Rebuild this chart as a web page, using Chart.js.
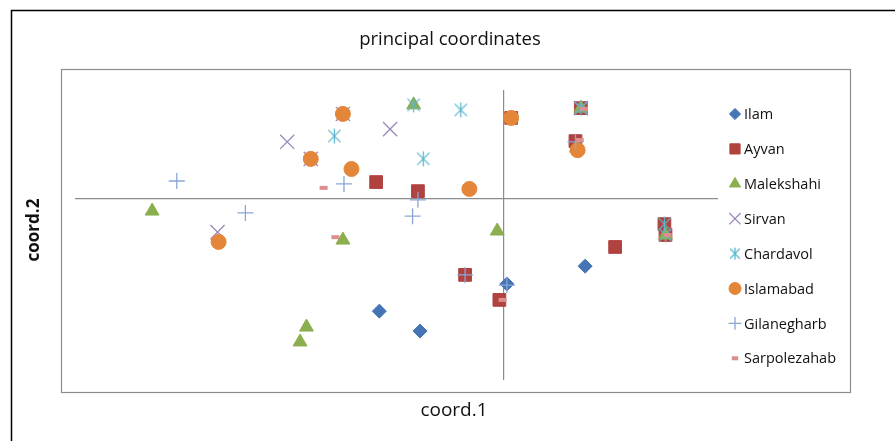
<!DOCTYPE html>
<html>
<head>
<meta charset="utf-8">
<script src="https://cdn.jsdelivr.net/npm/chart.js@4/dist/chart.umd.min.js"></script>
<style>
    body { margin: 0; background: #fff; }
    #wrap { width: 895px; height: 441px; position: relative; }
</style>
</head>
<body>
<div id="wrap"><canvas id="pcoChart"></canvas></div>
<script>
// Series names (legend order)
const seriesNames = ['Ilam', 'Ayvan', 'Malekshahi', 'Sirvan', 'Chardavol', 'Islamabad', 'Gilanegharb', 'Sarpolezahab'];

// coord.1 / coord.2 values
const ilam = [[0.076, -0.186], [0.003, -0.235], [-0.078, -0.365], [-0.116, -0.310]];
const ayvan = [[0.072, 0.250], [0.067, 0.159], [-0.119, 0.046], [-0.080, 0.021], [0.007, 0.223],
    [0.150, -0.070], [0.151, -0.100], [0.104, -0.133], [-0.036, -0.210], [-0.004, -0.279]];
const malekshahi = [[-0.328, -0.034], [-0.150, -0.114], [-0.184, -0.354], [-0.190, -0.395], [-0.006, -0.089],
    [-0.084, 0.259], [0.072, 0.250], [0.068, 0.140], [0.151, -0.100]];
const sirvan = [[-0.202, 0.157], [-0.106, 0.192], [-0.267, -0.092], [-0.150, 0.234], [-0.180, 0.110], [0.072, 0.250]];
const chardavol = [[-0.158, 0.173], [-0.084, 0.259], [-0.040, 0.245], [-0.075, 0.110], [0.072, 0.250],
    [0.150, -0.070], [0.151, -0.100]];
const islamabad = [[-0.150, 0.234], [-0.180, 0.110], [-0.142, 0.082], [-0.032, 0.027], [0.007, 0.223],
    [0.069, 0.134], [-0.266, -0.119]];
const gilanegharb = [[-0.305, 0.049], [-0.241, -0.039], [-0.149, 0.041], [-0.080, -0.003], [-0.085, -0.048],
    [-0.036, -0.210], [0.003, -0.238], [0.067, 0.157]];
const sarpolezahab = [[-0.168, 0.030], [-0.157, -0.106], [-0.001, -0.279], [0.075, 0.248], [0.071, 0.162], [0.153, -0.100]];

// Axis range
const xRange = [-0.4, 0.2];
const yRange = [-0.5, 0.3];

const seriesData = [ilam, ayvan, malekshahi, sirvan, chardavol, islamabad, gilanegharb, sarpolezahab];

// six-armed asterisk like the spreadsheet marker
function makeAsterisk(size, color) {
    const cv = document.createElement('canvas');
    cv.width = size; cv.height = size;
    const g = cv.getContext('2d');
    const h = size / 2, r = h - 1, d = r * 0.82;
    g.strokeStyle = color;
    g.lineWidth = 1.3;
    g.beginPath();
    g.moveTo(h, h - r); g.lineTo(h, h + r);
    g.moveTo(h - d, h - d); g.lineTo(h + d, h + d);
    g.moveTo(h - d, h + d); g.lineTo(h + d, h - d);
    g.stroke();
    return cv;
}

// marker looks
const markers = [
    { style: 'rectRot', color: '#4675B5', radius: 7, width: 1, fill: true },
    { style: 'rect', color: '#B0423F', radius: 9, width: 1, fill: true },
    { style: 'triangle', color: '#8BAE4E', radius: 8, width: 1, fill: true },
    { style: 'crossRot', color: '#9C88B9', radius: 10, width: 1.3, fill: false },
    { style: makeAsterisk(17, '#5BB8CE'), legendStyle: makeAsterisk(14, '#5BB8CE'), color: '#5BB8CE', radius: 8, width: 1.3, fill: false },
    { style: 'circle', color: '#E4863A', radius: 7.5, width: 1, fill: true },
    { style: 'cross', color: '#8AA6D8', radius: 8, width: 1.3, fill: false },
    { style: 'line', color: '#DB8F8E', radius: 4, width: 4, fill: false }
];

const datasets = seriesNames.map((name, i) => {
    const m = markers[i];
    return {
        label: name,
        data: seriesData[i].map(p => ({ x: p[0], y: p[1] })),
        pointStyle: m.style,
        pointRadius: m.radius,
        pointHoverRadius: m.radius,
        pointBorderWidth: m.width,
        pointBorderColor: m.color,
        pointBackgroundColor: m.fill ? m.color : 'transparent',
        showLine: false,
        order: seriesNames.length - i // later series on top
    };
});

const FONT = "'Open Sans', 'Liberation Sans', sans-serif";

// frames, titles and legend drawn around the plot
const decorPlugin = {
    id: 'decor',
    beforeDraw(chart) {
        const c = chart.ctx;
        c.save();
        c.fillStyle = '#fff';
        c.fillRect(0, 0, chart.width, chart.height);
        c.strokeStyle = '#000';
        c.lineWidth = 1.5;
        c.strokeRect(11.5, 10.5, 900, 450);
        c.strokeStyle = '#8c8c8c';
        c.lineWidth = 1.2;
        c.strokeRect(61.5, 69.5, 789, 323);
        c.restore();
    },
    afterDraw(chart) {
        const c = chart.ctx;
        c.save();
        c.fillStyle = '#111';
        c.textAlign = 'center';
        c.textBaseline = 'middle';
        c.font = '18.5px ' + FONT;
        c.fillText('principal coordinates', 450, 40);
        c.font = '19px ' + FONT;
        c.fillText('coord.1', 454, 411);
        c.save();
        c.translate(34, 230);
        c.rotate(-Math.PI / 2);
        c.font = 'bold 17px ' + FONT;
        c.fillText('coord.2', 0, 0);
        c.restore();

        // legend
        c.textAlign = 'left';
        c.font = '14.5px ' + FONT;
        seriesNames.forEach((name, i) => {
            const m = markers[i];
            const y = 114 + i * 34.9;
            c.strokeStyle = m.color;
            c.fillStyle = m.fill ? m.color : 'transparent';
            c.lineWidth = m.width;
            Chart.helpers.drawPoint(c, { pointStyle: m.legendStyle || m.style, radius: m.radius * 0.8, borderWidth: m.width }, 735, y);
            c.fillStyle = '#111';
            c.fillText(name, 744, y + 1);
        });
        c.restore();
    }
};

const zeroLine = ctx => Math.abs(ctx.tick.value) < 1e-9 ? '#8c8c8c' : 'transparent';

new Chart(document.getElementById('pcoChart'), {
    type: 'scatter',
    data: { datasets: datasets },
    options: {
        responsive: true,
        maintainAspectRatio: false,
        animation: false,
        layout: { padding: { left: 75, top: 90, right: 177, bottom: 61 } },
        scales: {
            x: {
                min: xRange[0], max: xRange[1],
                ticks: { display: false, stepSize: 0.1 },
                grid: { color: zeroLine, lineWidth: 1.2, drawTicks: false },
                border: { display: false }
            },
            y: {
                min: yRange[0], max: yRange[1],
                ticks: { display: false, stepSize: 0.1 },
                grid: { color: zeroLine, lineWidth: 1.2, drawTicks: false },
                border: { display: false }
            }
        },
        plugins: {
            legend: { display: false },
            tooltip: { enabled: false }
        }
    },
    plugins: [decorPlugin]
});
</script>
</body>
</html>
